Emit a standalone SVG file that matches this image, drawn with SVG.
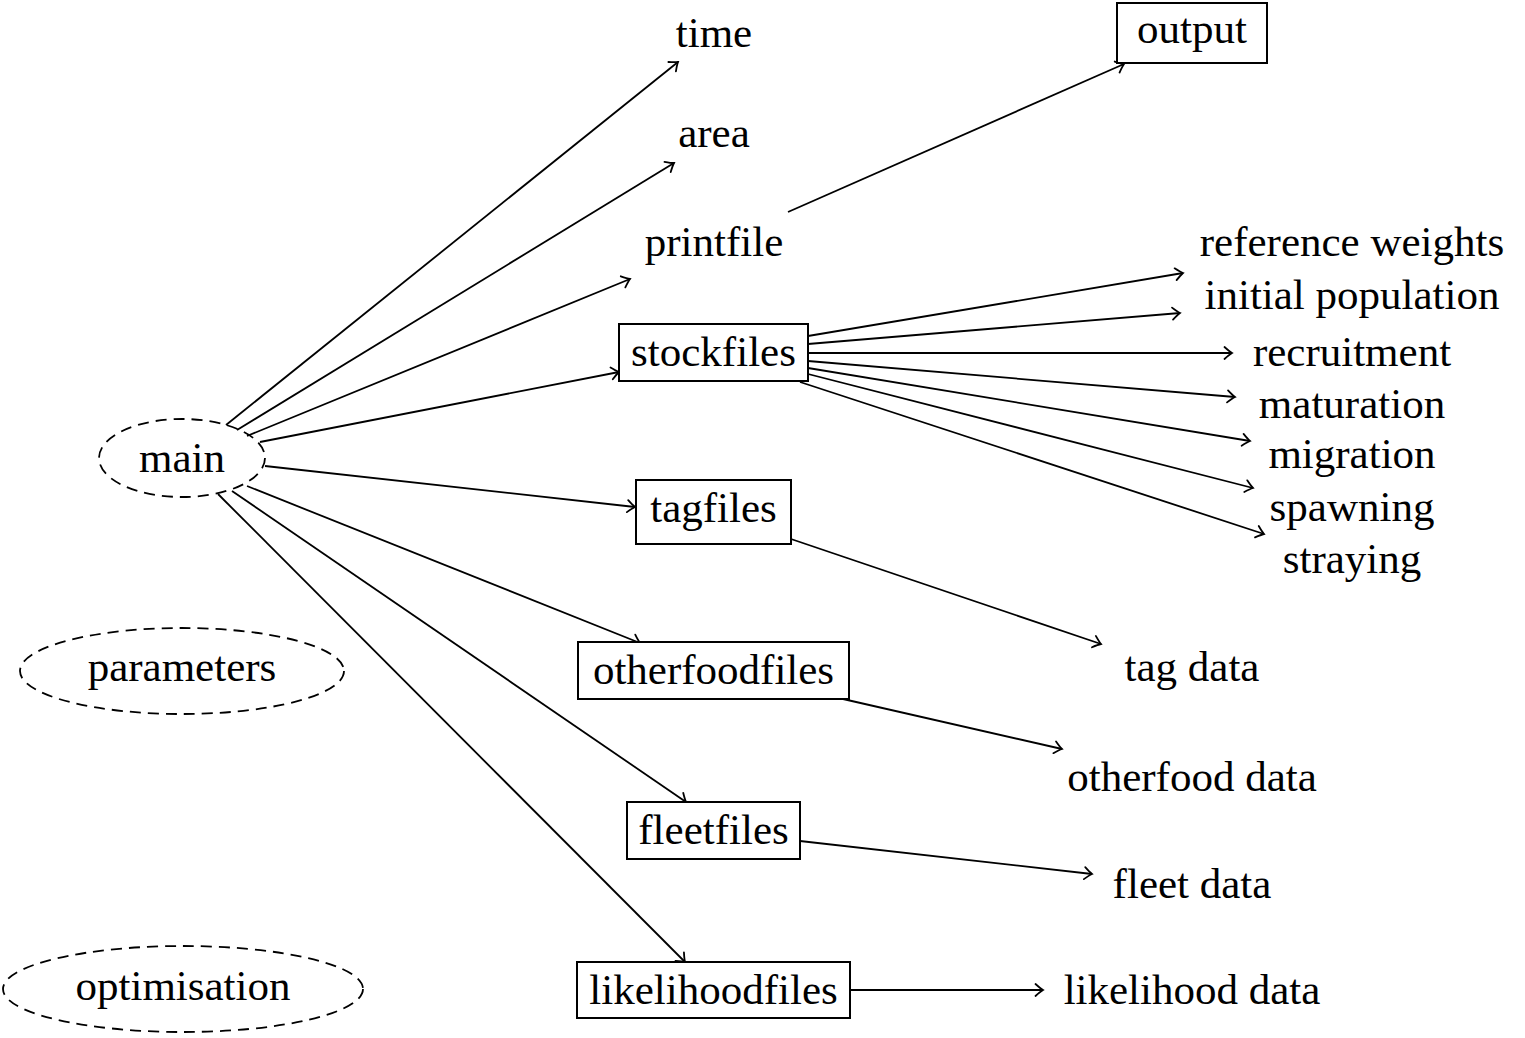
<svg xmlns="http://www.w3.org/2000/svg" width="1525" height="1038" viewBox="0 0 1525 1038">
<defs>
<marker id="arr" markerUnits="userSpaceOnUse" markerWidth="20" markerHeight="20" refX="0" refY="0" viewBox="-10 -10 20 20" orient="auto" overflow="visible">
<path d="M -7.5 -6 Q -2.5 -1.5 0 0 Q -2.5 1.5 -7.5 6" fill="none" stroke="#000" stroke-width="1.8" stroke-linecap="round"/>
</marker>
<style>
text{font-family:"Liberation Serif","DejaVu Serif",serif;font-size:43px;fill:#000;text-anchor:middle}
.box{fill:#fff;stroke:#000;stroke-width:2}
.ell{fill:none;stroke:#000;stroke-width:1.8;stroke-dasharray:11 7}
.c line{stroke:#000;stroke-width:1.8;fill:none;marker-end:url(#arr)}
</style>
</defs>
<rect width="1525" height="1038" fill="#fff"/>
<g class="c" id="connectors">
<line x1="226" y1="425" x2="678" y2="62"/>
<line x1="237" y1="430" x2="674" y2="163"/>
<line x1="247" y1="436" x2="630" y2="279"/>
<line x1="260" y1="442" x2="619" y2="372"/>
<line x1="265" y1="466" x2="635" y2="507"/>
<line x1="247" y1="486" x2="640" y2="643"/>
<line x1="232" y1="491" x2="686" y2="802"/>
<line x1="218" y1="494" x2="685" y2="962"/>
<line x1="788" y1="212" x2="1124" y2="64"/>
<line x1="808" y1="336" x2="1183" y2="273"/>
<line x1="808" y1="344" x2="1180" y2="313"/>
<line x1="808" y1="353" x2="1232" y2="353"/>
<line x1="808" y1="361" x2="1235" y2="397"/>
<line x1="808" y1="368" x2="1250" y2="441"/>
<line x1="808" y1="374" x2="1253" y2="488"/>
<line x1="800" y1="382" x2="1264" y2="534"/>
<line x1="791" y1="539" x2="1101" y2="644"/>
<line x1="843" y1="699" x2="1062" y2="749"/>
<line x1="800" y1="841" x2="1092" y2="874"/>
<line x1="850" y1="990" x2="1043" y2="990"/>
</g>
<g id="main"><ellipse class="ell" cx="182" cy="458" rx="83" ry="39"/><text x="182" y="472">main</text></g>
<g id="parameters"><ellipse class="ell" cx="182" cy="671" rx="162" ry="43"/><text x="182" y="681">parameters</text></g>
<g id="optimisation"><ellipse class="ell" cx="183" cy="989" rx="180" ry="43"/><text x="183" y="1000">optimisation</text></g>
<g id="time"><text x="714" y="47">time</text></g>
<g id="area"><text x="714" y="147">area</text></g>
<g id="printfile"><text x="714" y="256">printfile</text></g>
<g id="stockfiles"><rect class="box" x="619" y="324" width="189" height="57"/><text x="713.5" y="366">stockfiles</text></g>
<g id="tagfiles"><rect class="box" x="636" y="480" width="155" height="64"/><text x="713.5" y="522">tagfiles</text></g>
<g id="otherfoodfiles"><rect class="box" x="578" y="642" width="271" height="57"/><text x="713.5" y="684">otherfoodfiles</text></g>
<g id="fleetfiles"><rect class="box" x="627" y="802" width="173" height="57"/><text x="713.5" y="844">fleetfiles</text></g>
<g id="likelihoodfiles"><rect class="box" x="577" y="962" width="273" height="56"/><text x="713.5" y="1004">likelihoodfiles</text></g>
<g id="output"><rect class="box" x="1117" y="3" width="150" height="60"/><text x="1192" y="43">output</text></g>
<g id="referenceweights"><text x="1352" y="256">reference weights</text></g>
<g id="initialpopulation"><text x="1352" y="309">initial population</text></g>
<g id="recruitment"><text x="1352" y="366">recruitment</text></g>
<g id="maturation"><text x="1352" y="418">maturation</text></g>
<g id="migration"><text x="1352" y="468">migration</text></g>
<g id="spawning"><text x="1352" y="521">spawning</text></g>
<g id="straying"><text x="1352" y="573">straying</text></g>
<g id="tagdata"><text x="1192" y="681">tag data</text></g>
<g id="otherfooddata"><text x="1192" y="791">otherfood data</text></g>
<g id="fleetdata"><text x="1192" y="898">fleet data</text></g>
<g id="likelihooddata"><text x="1192" y="1004">likelihood data</text></g>
</svg>
